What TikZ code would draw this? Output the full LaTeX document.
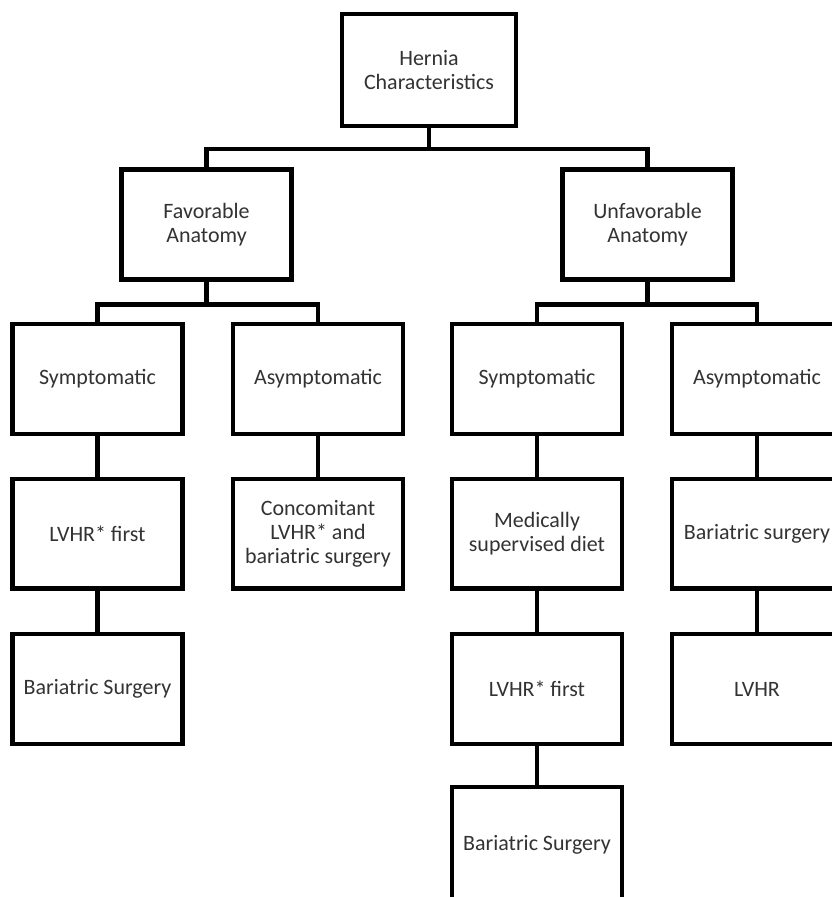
\documentclass[tikz,border=0pt]{standalone}
\usepackage{fontspec}
\setmainfont{Carlito}
\usetikzlibrary{positioning}
\definecolor{hcInk}{HTML}{000000}
\definecolor{hcText}{HTML}{333333}
\tikzset{
  every node/.style={font=\fontsize{12.5}{13.6}\selectfont, text=hcText},
  treeBox/.style={rectangle, draw=hcInk, fill=white, line width=2.3pt,
    minimum width=3.4cm, minimum height=2.2cm, align=center, inner sep=2pt},
  topBox/.style={treeBox, minimum width=3.48cm, minimum height=2.24cm},
  link/.style={draw=hcInk, line width=2.3pt},
}

\begin{document}
\begin{tikzpicture}[x=0.02cm,y=-0.02cm]
  \useasboundingbox (0,0) rectangle (832,897);

  % Root and the two anatomy branches.
  \node[topBox] (hernia) at (429,70) {Hernia\\Characteristics};
  \node[treeBox] (fav) at (206.5,224.5) {Favorable\\Anatomy};
  \node[treeBox] (unfav) at (647.5,224.5) {Unfavorable\\Anatomy};

  % Favorable side.
  \node[treeBox] (symFav) at (97.5,379) {Symptomatic};
  \node[treeBox] (asymFav) at (318,379) {Asymptomatic};
  \node[treeBox] (lvhrFav) at (97.5,533.5) {LVHR* first};
  \node[treeBox] (bariFav) at (97.5,689) {Bariatric Surgery};
  \node[treeBox] (concFav) at (318,533.5)
    {Concomitant\\LVHR* and\\bariatric surgery};

  % Unfavorable side.
  \node[treeBox] (symUnf) at (537,379) {Symptomatic};
  \node[treeBox] (asymUnf) at (757,379) {Asymptomatic};
  \node[treeBox] (dietUnf) at (537,533.5) {Medically\\supervised diet};
  \node[treeBox] (lvhrUnf) at (537,689) {LVHR* first};
  \node[treeBox, minimum height=2.3cm] (bariUnf) at (537,844.5)
    {Bariatric Surgery};
  \node[treeBox] (surgUnf) at (757,533.5) {Bariatric surgery};
  \node[treeBox] (repairUnf) at (757,689) {LVHR};

  % Elbow connectors.
  \draw[link] (hernia.south) -- ++(0,21) -| (fav.north);
  \draw[link] (hernia.south) -- ++(0,21) -| (unfav.north);
  \draw[link] (fav.south) -- ++(0,23) -| (symFav.north);
  \draw[link] (fav.south) -- ++(0,23) -| (asymFav.north);
  \draw[link] (unfav.south) -- ++(0,23) -| (symUnf.north);
  \draw[link] (unfav.south) -- ++(0,23) -| (asymUnf.north);

  % Straight chains.
  \draw[link] (symFav.south) -- (lvhrFav.north);
  \draw[link] (lvhrFav.south) -- (bariFav.north);
  \draw[link] (asymFav.south) -- (concFav.north);
  \draw[link] (symUnf.south) -- (dietUnf.north);
  \draw[link] (dietUnf.south) -- (lvhrUnf.north);
  \draw[link] (lvhrUnf.south) -- (bariUnf.north);
  \draw[link] (asymUnf.south) -- (surgUnf.north);
  \draw[link] (surgUnf.south) -- (repairUnf.north);
\end{tikzpicture}
\end{document}
